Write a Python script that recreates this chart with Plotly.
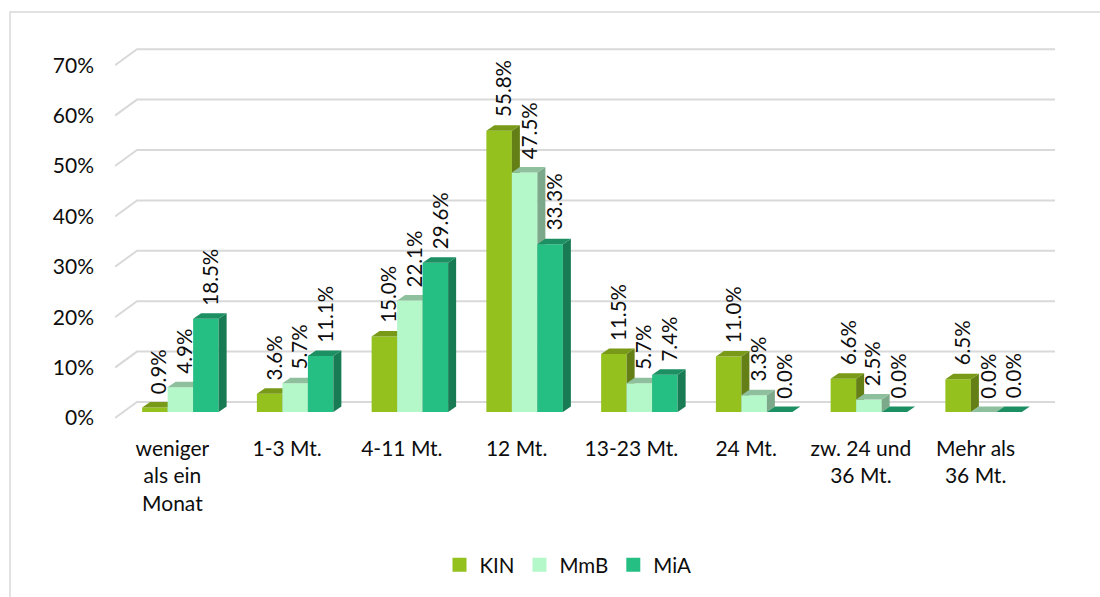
import plotly.graph_objects as go

categories = ["weniger<br>als ein<br>Monat", "1-3 Mt.", "4-11 Mt.", "12 Mt.", "13-23 Mt.",
              "24 Mt.", "zw. 24 und<br>36 Mt.", "Mehr als<br>36 Mt."]
series_names = ["KIN", "MmB", "MiA"]
kin = [0.9, 3.6, 15.0, 55.8, 11.5, 11.0, 6.6, 6.5]
mmb = [4.9, 5.7, 22.1, 47.5, 5.7, 3.3, 2.5, 0.0]
mia = [18.5, 11.1, 29.6, 33.3, 7.4, 0.0, 0.0, 0.0]
y_ticks = [0, 10, 20, 30, 40, 50, 60, 70]
y_tick_labels = ["0%", "10%", "20%", "30%", "40%", "50%", "60%", "70%"]

values = [kin, mmb, mia]
front_colors = ["#95C11F", "#B4F8C9", "#26BF83"]
side_colors = ["#647F15", "#7CA98A", "#187B54"]
top_colors = ["#789A18", "#8FC09E", "#1D9063"]

FONT = "Lato"
TXT = "#0d0d0d"

# pixel geometry -> data units
cat_px = 114.75
pct_px = 5.04
bar_w = 25.5 / cat_px
bar_shift = 8.0 / cat_px        # bars sit mid-depth
bar_base = 6.0 / pct_px
depth_x = 8.0 / cat_px
depth_y = 5.5 / pct_px
grid_dx = 22.0 / cat_px
grid_dy = 16.0 / pct_px
x_lo = -0.5
x_hi = -0.5 + 940 / cat_px
y_lo = -12 / pct_px
y_hi = y_lo + 400 / pct_px

fig = go.Figure()

# back-wall gridlines
gx, gy = [], []
for t in y_ticks:
    gx += [x_lo, x_lo + grid_dx, len(categories) - 0.5 + grid_dx, None]
    gy += [t, t + grid_dy, t + grid_dy, None]
fig.add_trace(go.Scatter(x=gx, y=gy, mode="lines", line=dict(color="#D9D9D9", width=2),
                         hoverinfo="skip", showlegend=False))

annotations = []
for j, vals in enumerate(values):
    fx, fy, sx, sy, tx, ty = [], [], [], [], [], []
    for i, v in enumerate(vals):
        c = i + bar_shift + (j - 1) * bar_w
        xl, xr = c - bar_w / 2, c + bar_w / 2
        b = bar_base
        top = b + v
        fx += [xl, xr, xr, xl, xl, None]
        fy += [b, b, top, top, b, None]
        sx += [xr, xr + depth_x, xr + depth_x, xr, xr, None]
        sy += [b, b + depth_y, top + depth_y, top, b, None]
        tx += [xl, xr, xr + depth_x, xl + depth_x, xl, None]
        ty += [top, top, top + depth_y, top + depth_y, top, None]
        annotations.append(dict(
            x=c + depth_x / 2, y=top + depth_y, xref="x", yref="y",
            text=f"{v:.1f}%", textangle=-90, showarrow=False,
            xanchor="center", yanchor="bottom", yshift=6,
            font=dict(family=FONT, size=20.5, color=TXT)))
    fig.add_trace(go.Scatter(x=fx, y=fy, mode="lines", fill="toself", fillcolor=front_colors[j],
                             line=dict(width=0), hoverinfo="skip", showlegend=False))
    fig.add_trace(go.Scatter(x=sx, y=sy, mode="lines", fill="toself", fillcolor=side_colors[j],
                             line=dict(width=0), hoverinfo="skip", showlegend=False))
    fig.add_trace(go.Scatter(x=tx, y=ty, mode="lines", fill="toself", fillcolor=top_colors[j],
                             line=dict(width=0), hoverinfo="skip", showlegend=False))

for j, name in enumerate(series_names):
    fig.add_trace(go.Scatter(x=[None], y=[None], mode="markers", name=name,
                             marker=dict(symbol="square", size=14, color=front_colors[j])))

L, R, T, B = 115, 45, 30, 167
PW, PH = 1100 - L - R, 597 - T - B

fig.update_layout(
    width=1100, height=597,
    margin=dict(l=L, r=R, t=T, b=B),
    paper_bgcolor="white", plot_bgcolor="white",
    font=dict(family=FONT, size=21, color=TXT),
    showlegend=True,
    legend=dict(orientation="h", x=(568 - L) / PW, xanchor="center",
                y=(PH + T - 565) / PH, yanchor="middle",
                font=dict(family=FONT, size=20.5, color=TXT), itemwidth=30),
    xaxis=dict(range=[x_lo, x_hi], tickvals=list(range(len(categories))), ticktext=categories,
               showgrid=False, zeroline=False, showline=False, ticks="",
               tickfont=dict(family=FONT, size=21, color=TXT), ticklabelstandoff=4,
               fixedrange=True),
    yaxis=dict(range=[y_lo, y_hi], tickvals=y_ticks, ticktext=y_tick_labels,
               showgrid=False, zeroline=False, showline=False, ticks="",
               tickfont=dict(family=FONT, size=21, color=TXT), ticklabelstandoff=20,
               fixedrange=True),
    annotations=annotations,
    shapes=[dict(type="rect", xref="paper", yref="paper",
                 x0=(10 - L) / PW, x1=(1110 - L) / PW,
                 y0=(PH + T - 610) / PH, y1=(PH + T - 12) / PH,
                 line=dict(color="#D9D9D9", width=1.5), fillcolor="rgba(0,0,0,0)")],
)

fig.write_html("out.html")
